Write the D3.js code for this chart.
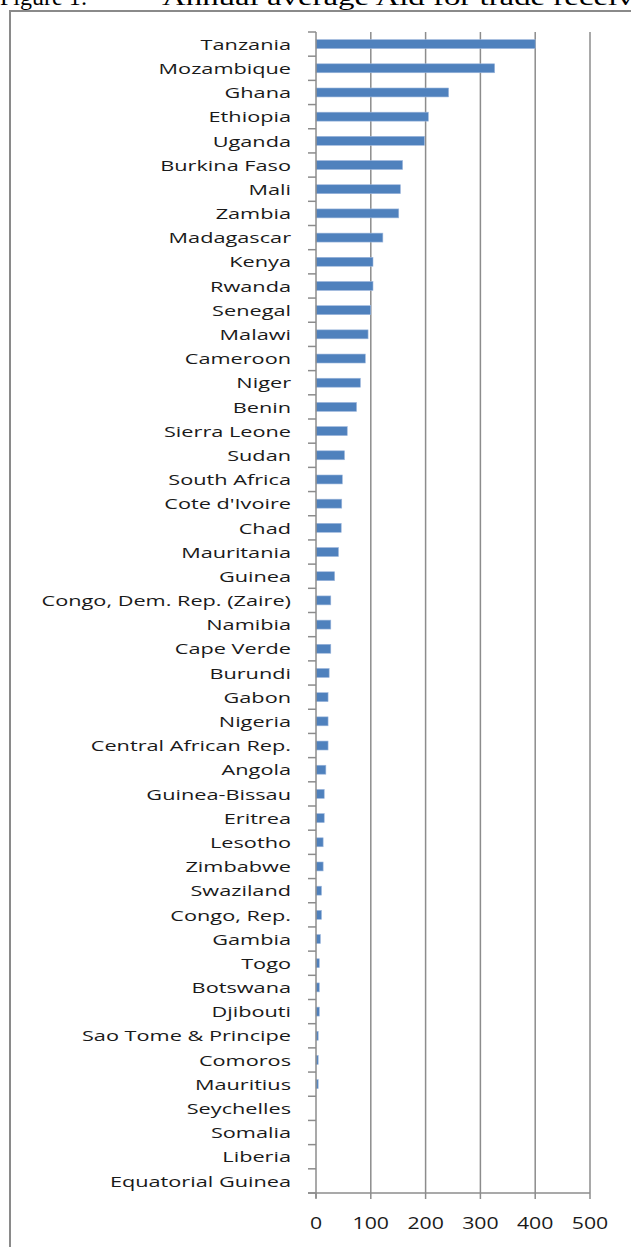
<!DOCTYPE html>
<html>
<head>
<meta charset="utf-8">
<script src="https://cdn.jsdelivr.net/npm/d3@7"></script>
<style>
  html, body { margin: 0; padding: 0; background: #fff; }
  svg { display: block; }
</style>
</head>
<body>
<svg id="chart" width="631" height="1247"></svg>
<script>
const countries = ["Tanzania","Mozambique","Ghana","Ethiopia","Uganda","Burkina Faso","Mali","Zambia","Madagascar","Kenya","Rwanda","Senegal","Malawi","Cameroon","Niger","Benin","Sierra Leone","Sudan","South Africa","Cote d'Ivoire","Chad","Mauritania","Guinea","Congo, Dem. Rep. (Zaire)","Namibia","Cape Verde","Burundi","Gabon","Nigeria","Central African Rep.","Angola","Guinea-Bissau","Eritrea","Lesotho","Zimbabwe","Swaziland","Congo, Rep.","Gambia","Togo","Botswana","Djibouti","Sao Tome & Principe","Comoros","Mauritius","Seychelles","Somalia","Liberia","Equatorial Guinea"];
const aidValues = [400,326,242,205,198,158,154,151,122,104,104,100,95,90,81,74,57,52,48,47,46,41,34,27,27,27,24,22,22,22,18,15,15,13,13,10,10,8,6,6,6,4,4,4,0,0,0,0];
const xTicks = [0,100,200,300,400,500];
const titleLeft = "Figure 1:";
const titleRight = "Annual average Aid for trade received";

const svg = d3.select("#chart");

// Title (cut off at top)
svg.append("text").attr("x", 0).attr("y", 5)
  .attr("font-family", "Liberation Serif, Times New Roman, serif")
  .attr("font-size", 24).attr("fill", "#000")
  .text(titleLeft);
svg.append("text").attr("transform", "translate(162,5) scale(1.37,1)")
  .attr("font-family", "Liberation Serif, Times New Roman, serif")
  .attr("font-size", 24).attr("fill", "#000")
  .text(titleRight);

// Frame
svg.append("rect").attr("x", 10).attr("y", 11).attr("width", 640).attr("height", 1260)
  .attr("fill", "none").attr("stroke", "#8a8a8a").attr("stroke-width", 2);

const x0 = 316, x1 = 590, yTop = 32, yBot = 1193;
const x = d3.scaleLinear().domain([0, 500]).range([x0, x1]);
const pad = 0.63;
const y = d3.scaleBand().domain(countries).range([yTop, yBot])
  .paddingInner(pad).paddingOuter(pad / 2);

const gridColor = "#8c8c8c";

// Gridlines
svg.append("g").selectAll("line").data(xTicks.slice(1)).join("line")
  .attr("x1", d => x(d)).attr("x2", d => x(d))
  .attr("y1", yTop).attr("y2", yBot)
  .attr("stroke", gridColor).attr("stroke-width", 1.5);

// Bars
svg.append("g").selectAll("rect").data(countries).join("rect")
  .attr("x", x(0))
  .attr("y", d => y(d))
  .attr("width", (d, i) => x(aidValues[i]) - x(0))
  .attr("height", y.bandwidth())
  .attr("fill", "#4F81BD")
  .attr("stroke", "#9db7dc").attr("stroke-width", 0.6);

// Left axis line & ticks at band boundaries
const step = y.step();
svg.append("line").attr("x1", x0).attr("x2", x0).attr("y1", yTop).attr("y2", yBot + 5)
  .attr("stroke", gridColor).attr("stroke-width", 1.5);
svg.append("g").selectAll("line").data(d3.range(countries.length + 1)).join("line")
  .attr("x1", x0 - 8).attr("x2", x0)
  .attr("y1", i => yTop + i * step).attr("y2", i => yTop + i * step)
  .attr("stroke", gridColor).attr("stroke-width", 1.5);

// Bottom axis
svg.append("line").attr("x1", x0 - 8).attr("x2", x1).attr("y1", yBot).attr("y2", yBot)
  .attr("stroke", gridColor).attr("stroke-width", 1.5);
svg.append("g").selectAll("line").data(xTicks).join("line")
  .attr("x1", d => x(d)).attr("x2", d => x(d))
  .attr("y1", yBot).attr("y2", yBot + 6)
  .attr("stroke", gridColor).attr("stroke-width", 1.5);

// Category labels
svg.append("g").selectAll("text").data(countries).join("text")
  .attr("transform", d => `translate(291,${y(d) + y.bandwidth() / 2}) scale(1.42,1)`)
  .attr("text-anchor", "end").attr("dominant-baseline", "central")
  .attr("font-family", "Open Sans, sans-serif").attr("font-size", 15.3)
  .attr("fill", "#1a1a1a")
  .text(d => d);

// X tick labels
svg.append("g").selectAll("text").data(xTicks).join("text")
  .attr("transform", d => `translate(${x(d)},1222) scale(1.25,1)`)
  .attr("text-anchor", "middle").attr("dominant-baseline", "central")
  .attr("font-family", "Open Sans, sans-serif").attr("font-size", 17)
  .attr("fill", "#1a1a1a")
  .text(d => d);
</script>
</body>
</html>
